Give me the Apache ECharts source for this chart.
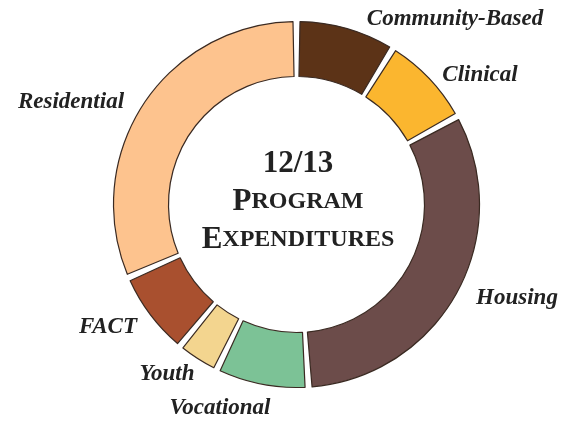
<!DOCTYPE html>
<html>
<head>
<meta charset="utf-8">
<script src="https://cdn.jsdelivr.net/npm/echarts@6/dist/echarts.min.js"></script>
<style>
  html, body { margin: 0; padding: 0; background: #fff; }
  #chart { width: 573px; height: 421px; }
</style>
</head>
<body>
<div id="chart"></div>
<script>
// program expenditure shares (percent)
const categories = ["Community-Based", "Clinical", "Housing", "Vocational", "Youth", "FACT", "Residential"];
const shares = [8.8, 8.2, 31.9, 8.2, 3.8, 7.5, 31.5];
const sliceColors = ["#5c3317", "#fbb62f", "#6c4c4a", "#7cc296", "#f3d58f", "#a9502f", "#fdc38e"];

// where each label sits (manual layout, like the printed figure)
const labelPos = [
  [455, 19], [480, 75], [517, 298], [220, 408], [167, 374], [108, 327], [71, 102]
];

const chart = echarts.init(document.getElementById("chart"));
const serif = "'Liberation Serif', 'Times New Roman', serif";

const option = {
  backgroundColor: "#fff",
  animation: false,
  graphic: [
    {
      type: "text",
      x: 298,
      y: 202,
      style: {
        text: "{n|12/13}\n{b|P}{s|ROGRAM}\n{b|E}{s|XPENDITURES}",
        align: "center",
        verticalAlign: "middle",
        fill: "#222",
        rich: {
          n: { fontFamily: serif, fontWeight: "bold", fontSize: 31, lineHeight: 38, fill: "#222" },
          b: { fontFamily: serif, fontWeight: "bold", fontSize: 31, lineHeight: 38, fill: "#222" },
          s: { fontFamily: serif, fontWeight: "bold", fontSize: 24, lineHeight: 38, fill: "#222" },
        },
      },
    },
  ],
  series: [
    {
      type: "pie",
      center: [296.5, 204.5],
      radius: [128, 183],
      startAngle: 90,
      clockwise: true,
      padAngle: 2.2,
      avoidLabelOverlap: false,
      itemStyle: {
        borderColor: "#3a2a22",
        borderWidth: 1.2,
      },
      label: {
        show: true,
        position: "outside",
        formatter: "{b}",
        fontFamily: serif,
        fontWeight: "bold",
        fontStyle: "italic",
        fontSize: 23,
        color: "#222",
      },
      labelLine: { show: false },
      labelLayout: function (params) {
        const p = labelPos[params.dataIndex];
        return { x: p[0], y: p[1], align: "center", verticalAlign: "middle" };
      },
      emphasis: { disabled: true },
      data: categories.map((name, i) => ({
        name: name,
        value: shares[i],
        itemStyle: { color: sliceColors[i] },
      })),
    },
  ],
};

chart.setOption(option);
</script>
</body>
</html>
